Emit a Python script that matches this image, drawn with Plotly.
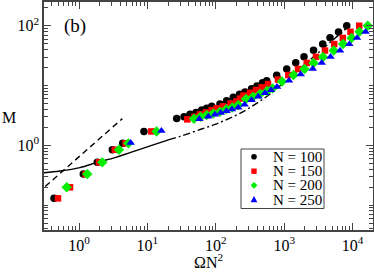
import plotly.graph_objects as go

# ---- data ----
black_x = [0.431, 1.156, 1.85, 3.07, 4.35, 8.9, 26.8, 34.3, 42.0, 51.4, 62.2, 73.6, 87.1, 115, 144, 180, 222, 267, 333,
           400, 482, 555, 776, 1088, 1473, 1946, 2682, 3654, 4677, 6222, 8204]
black_y = [0.130, 0.331, 0.520, 0.844, 1.08, 1.70, 2.81, 3.01, 3.30, 3.56, 3.89, 4.16, 4.49, 4.91, 5.55, 6.35, 7.13,
           7.78, 8.81, 9.82, 11.1, 12.0, 14.9, 18.9, 24.1, 30.3, 38.8, 49.4, 63.0, 78.7, 100]

red_x = [0.493, 0.739, 1.25, 1.96, 3.33, 4.79, 11.4, 38.3, 48.8, 58.7, 71.9, 87.1, 103, 127, 164, 201, 226, 254, 316,
         387, 469, 580, 811, 1148, 1592, 2133, 2916, 3947, 5383, 7189, 9311, 12490]
red_y = [0.130, 0.199, 0.331, 0.520, 0.844, 1.08, 1.71, 2.72, 3.01, 3.30, 3.56, 3.89, 4.16, 4.49, 5.00, 5.44, 6.06,
         6.80, 7.55, 8.41, 9.33, 10.6, 12.6, 15.0, 18.9, 23.9, 30.2, 38.5, 49.4, 62.5, 79.1, 100]

green_x = [0.661, 1.32, 2.19, 3.84, 5.26, 13.6, 48.0, 59.7, 73.6, 91.9, 115, 141, 174, 213, 276, 350, 443, 561, 675,
           929, 1368, 1982, 2682, 3690, 5297, 7244, 9663, 12570, 16630]
green_y = [0.199, 0.331, 0.520, 0.844, 1.08, 1.71, 2.79, 3.01, 3.21, 3.43, 3.65, 4.00, 4.29, 4.72, 5.95, 6.50, 7.21,
           8.09, 8.98, 11.7, 15.0, 18.9, 23.8, 30.0, 38.5, 49.4, 62.5, 79.1, 100]

blue_x = [5.70, 16.0, 57.4, 77.6, 97.3, 118, 143, 172, 213, 263, 333, 418, 524, 641, 785, 1175, 1742, 2612, 3532,
          4753, 6546, 8954, 11590, 15450]
blue_y = [1.105, 1.75, 2.75, 3.03, 3.27, 3.51, 3.75, 4.00, 4.29, 4.81, 5.72, 6.55, 7.49, 8.41, 9.55, 12.1, 15.4,
          19.1, 24.0, 30.3, 38.5, 49.1, 62.5, 79.1]

solid_x = [0.308, 0.527, 1.03, 1.85, 3.36, 5.57, 9.22, 15.3, 20.7]
solid_y = [0.348, 0.372, 0.425, 0.520, 0.625, 0.758, 0.919, 1.11, 1.25]

dashdot_x = [20.7, 30.0, 58.7, 97.3, 161, 267, 400, 620, 1088, 1702, 2818, 4677, 8854]
dashdot_y = [1.25, 1.41, 1.84, 2.24, 2.86, 3.82, 5.10, 7.21, 12.4, 19.2, 31.7, 52.4, 98.9]

dash_x = [0.32, 4.3]
dash_y = [0.205, 2.8]

series_names = ["N = 100", "N = 150", "N = 200", "N = 250"]

x_major = [1, 10, 100, 1000, 10000]
x_major_text = ["10<sup>0</sup>", "10<sup>1</sup>", "10<sup>2</sup>", "10<sup>3</sup>", "10<sup>4</sup>"]
y_major = [1, 100]
y_major_text = ["10<sup>0</sup>", "10<sup>2</sup>"]

FONT = "Liberation Serif"
AX = "#444444"

# layout geometry (pixels)
W, H = 374, 272
ML, MR, MT, MB = 44, 1, 2, 42
PW, PH = W - ML - MR, H - MT - MB


def px(xp):
    return (xp - ML) / PW


def py(yp):
    return (H - MB - yp) / PH


x_minor = [m * 10 ** e for e in range(-1, 5) for m in range(2, 10)]
y_minor = [m * 10 ** e for e in range(-2, 3) for m in range(1, 10) if not (m == 1 and e in (0, 2))]

fig = go.Figure()

fig.add_trace(go.Scatter(x=dash_x, y=dash_y, mode="lines", line=dict(color="black", width=1.4, dash="6px,4px"),
                         showlegend=False, hoverinfo="skip"))
fig.add_trace(go.Scatter(x=solid_x, y=solid_y, mode="lines", line=dict(color="black", width=1.4, shape="spline"),
                         showlegend=False, hoverinfo="skip"))
fig.add_trace(go.Scatter(x=dashdot_x, y=dashdot_y, mode="lines",
                         line=dict(color="black", width=1.4, dash="7px,3px,2px,3px", shape="spline"),
                         showlegend=False, hoverinfo="skip"))

colors = ["black", "#ff0000", "#00ee00", "#0000ff"]
specs = [
    (black_x, black_y, "circle", 7.5),
    (red_x, red_y, "square", 6.5),
    (green_x, green_y, "diamond", 8),
    (blue_x, blue_y, "triangle-up", 7.5),
]
for (xs, ys, sym, sz), col, name in zip(specs, colors, series_names):
    fig.add_trace(go.Scatter(x=xs, y=ys, mode="markers", name=name, showlegend=False,
                             marker=dict(color=col, symbol=sym, size=sz, line=dict(width=0))))

axis_common = dict(
    type="log", showgrid=False, zeroline=False, showline=True, linecolor=AX, linewidth=1.5,
    mirror="allticks", ticks="inside", ticklen=7, tickwidth=1, tickcolor=AX, automargin=False,
    tickfont=dict(family=FONT, size=16, color="black"),
    minor=dict(ticks="inside", ticklen=4, tickwidth=1, tickcolor=AX, showgrid=False),
)

fig.update_xaxes(**axis_common, range=[-0.512, 4.298], tickmode="array", tickvals=x_major, ticktext=x_major_text)
fig.update_xaxes(minor_tickmode="array", minor_tickvals=x_minor)
fig.update_yaxes(**axis_common, range=[-1.415, 2.397], tickmode="array", tickvals=y_major, ticktext=y_major_text)
fig.update_yaxes(minor_tickmode="array", minor_tickvals=y_minor)

# manual legend (box, symbols, labels)
shapes = [dict(type="rect", xref="paper", yref="paper", x0=px(241), x1=px(324), y0=py(208.5), y1=py(149),
               line=dict(color=AX, width=1), fillcolor="white", layer="above")]
annotations = []
leg_y = [156.7, 171.2, 185.3, 199.5]
mx, r = 254, 2.8
for i, (name, col, cy) in enumerate(zip(series_names, colors, leg_y)):
    if i == 0:
        shapes.append(dict(type="circle", xref="paper", yref="paper", x0=px(mx - r), x1=px(mx + r),
                           y0=py(cy + r), y1=py(cy - r), fillcolor=col, line=dict(width=0), layer="above"))
    elif i == 1:
        shapes.append(dict(type="rect", xref="paper", yref="paper", x0=px(mx - 2.7), x1=px(mx + 2.7),
                           y0=py(cy + 2.7), y1=py(cy - 2.7), fillcolor=col, line=dict(width=0), layer="above"))
    elif i == 2:
        d = 3.4
        path = (f"M {px(mx)},{py(cy - d)} L {px(mx + d)},{py(cy)} L {px(mx)},{py(cy + d)} "
                f"L {px(mx - d)},{py(cy)} Z")
        shapes.append(dict(type="path", xref="paper", yref="paper", path=path, fillcolor=col,
                           line=dict(width=0), layer="above"))
    else:
        d = 3.4
        path = (f"M {px(mx)},{py(cy - d)} L {px(mx + d)},{py(cy + d * 0.8)} "
                f"L {px(mx - d)},{py(cy + d * 0.8)} Z")
        shapes.append(dict(type="path", xref="paper", yref="paper", path=path, fillcolor=col,
                           line=dict(width=0), layer="above"))
    annotations.append(dict(text=name, xref="paper", yref="paper", x=px(271), y=py(cy), xanchor="left",
                            yanchor="middle", showarrow=False, font=dict(family=FONT, size=15, color="black")))

annotations += [
    dict(text="(b)", xref="paper", yref="paper", x=px(62), y=py(26), xanchor="left", yanchor="middle",
         showarrow=False, font=dict(family=FONT, size=19, color="black")),
    dict(text="M", xref="paper", yref="paper", x=px(9), y=py(117), xanchor="center", yanchor="middle",
         showarrow=False, font=dict(family=FONT, size=16, color="black")),
    dict(text="ΩN<sup>2</sup>", xref="paper", yref="paper", x=px(208), y=py(261), xanchor="center",
         yanchor="middle", showarrow=False, font=dict(family=FONT, size=16, color="black")),
]

fig.update_layout(
    width=W, height=H,
    margin=dict(l=ML, r=MR, t=MT, b=MB, autoexpand=False),
    paper_bgcolor="white", plot_bgcolor="white",
    font=dict(family=FONT, color="black"),
    showlegend=False,
    shapes=shapes,
    annotations=annotations,
)

fig.write_html("out.html", config={"displayModeBar": False},
               post_script="document.body.style.margin='0';document.body.style.padding='0';"
                           "document.documentElement.style.overflow='hidden';")
